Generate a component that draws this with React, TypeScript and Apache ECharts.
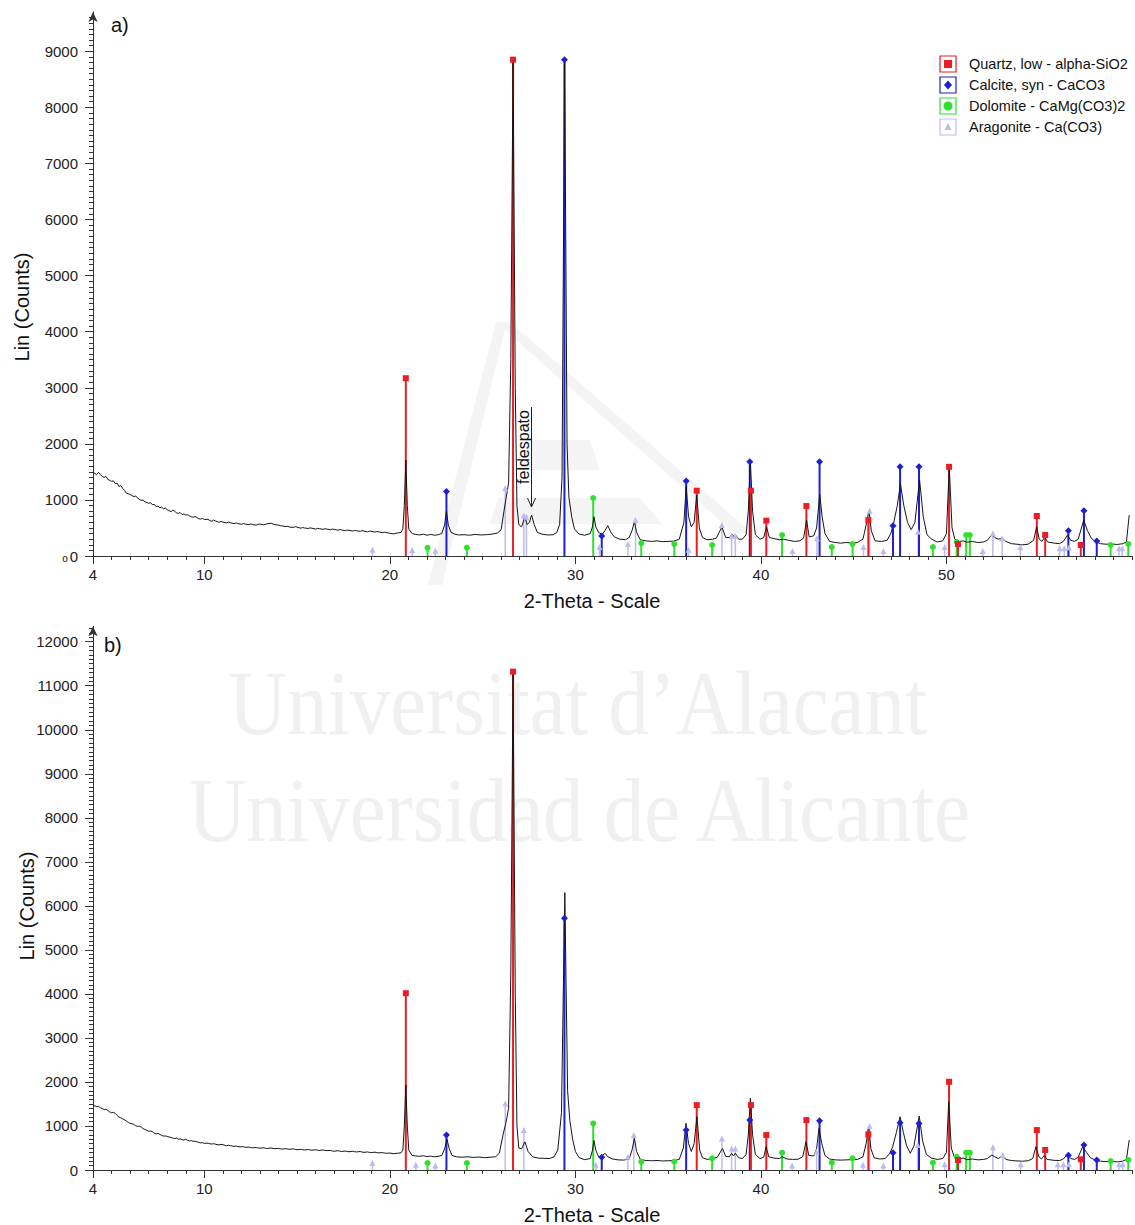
import React, { useEffect, useRef } from 'react';
import * as echarts from 'echarts';

const xTickLabels = [4, 10, 20, 30, 40, 50];
const yTicksA = [0, 1000, 2000, 3000, 4000, 5000, 6000, 7000, 8000, 9000];
const yTicksB = [0, 1000, 2000, 3000, 4000, 5000, 6000, 7000, 8000, 9000, 10000, 11000, 12000];

const phaseNames = ['Quartz, low - alpha-SiO2', 'Calcite, syn - CaCO3', 'Dolomite - CaMg(CO3)2', 'Aragonite - Ca(CO3)'];

// measured pattern, panel a)
const patternA: [number, number][] = [
  [4.0, 1500], [4.1, 1470], [4.2, 1455], [4.3, 1490], [4.4, 1450], [4.5, 1420], [4.6, 1400], [4.7, 1420], [4.8, 1365], [4.9, 1350], [5.0, 1330], [5.1, 1340], [5.2, 1290], [5.3, 1300], [5.4, 1240], [5.5, 1255], [5.6, 1205], [5.7, 1170], [5.8, 1120],
  [5.9, 1110], [6.0, 1100], [6.1, 1075], [6.2, 1060], [6.3, 1070], [6.4, 1035], [6.5, 1010], [6.6, 990], [6.7, 1000], [6.8, 965], [6.9, 955], [7.0, 940], [7.1, 950], [7.2, 915], [7.3, 920], [7.4, 880], [7.5, 890], [7.6, 860], [7.7, 875], [7.8, 840],
  [7.9, 855], [8.0, 825], [8.1, 810], [8.2, 790], [8.3, 815], [8.4, 800], [8.5, 770], [8.6, 760], [8.7, 775], [8.8, 740], [8.9, 750], [9.0, 730], [9.1, 735], [9.2, 715], [9.3, 700], [9.4, 690], [9.5, 705], [9.6, 685], [9.7, 665], [9.8, 660],
  [9.9, 670], [10.0, 650], [10.2, 655], [10.3, 630], [10.4, 620], [10.5, 640], [10.6, 625], [10.8, 600], [10.9, 615], [11.0, 605], [11.2, 590], [11.3, 605], [11.4, 595], [11.6, 575], [11.7, 590], [11.8, 580],
  [12.0, 565], [12.1, 580], [12.2, 570], [12.4, 560], [12.5, 572], [12.6, 560], [12.8, 550], [12.9, 565], [13.0, 570], [13.2, 555], [13.4, 575], [13.6, 585], [13.7, 570], [13.8, 560],
  [14.0, 550], [14.1, 540], [14.2, 535], [14.4, 525], [14.5, 530], [14.6, 515], [14.8, 510], [14.9, 522], [15.0, 515], [15.2, 495], [15.3, 508], [15.4, 500], [15.6, 490], [15.7, 502], [15.8, 495],
  [16.0, 480], [16.1, 492], [16.2, 488], [16.4, 475], [16.5, 486], [16.6, 480], [16.8, 468], [16.9, 480], [17.0, 475], [17.2, 460], [17.3, 472], [17.4, 465], [17.6, 450], [17.7, 463], [17.8, 458],
  [18.0, 445], [18.1, 456], [18.2, 450], [18.4, 440], [18.5, 452], [18.6, 445], [18.8, 430], [18.9, 444], [19.0, 440], [19.2, 425], [19.3, 437], [19.4, 432], [19.6, 415], [19.7, 425], [19.8, 418],
  [20.0, 405], [20.2, 395], [20.4, 410], [20.6, 420], [20.7, 480], [20.78, 900], [20.86, 1710], [20.94, 900], [21.02, 480], [21.2, 400],
  [21.4, 385], [21.6, 375], [21.8, 390], [22.0, 370], [22.2, 385], [22.4, 370], [22.6, 380], [22.8, 400], [22.95, 550], [23.05, 800],
  [23.15, 550], [23.3, 420], [23.5, 390], [23.7, 375], [24.0, 380], [24.3, 370], [24.6, 385], [24.9, 375], [25.2, 380], [25.5, 390],
  [25.8, 410], [26.0, 470], [26.15, 800], [26.25, 1000], [26.4, 1300], [26.52, 3500], [26.64, 8800], [26.76, 3000], [26.85, 900], [26.95, 560],
  [27.1, 520], [27.28, 700], [27.4, 560], [27.52, 600], [27.64, 730], [27.78, 560], [27.95, 420], [28.2, 390], [28.5, 375], [28.8, 380],
  [29.0, 420], [29.15, 560], [29.28, 1400], [29.42, 8850], [29.55, 2000], [29.65, 1050], [29.8, 700], [29.95, 480], [30.2, 390], [30.5, 370],
  [30.8, 400], [30.92, 520], [31.0, 700], [31.1, 520], [31.25, 420], [31.45, 380], [31.6, 460], [31.75, 540], [31.9, 430], [32.1, 340],
  [32.4, 300], [32.7, 290], [32.9, 330], [33.05, 450], [33.18, 610], [33.3, 420], [33.5, 290], [33.8, 270], [34.1, 260], [34.4, 270],
  [34.7, 255], [35.0, 260], [35.3, 265], [35.6, 300], [35.85, 600], [35.97, 1240], [36.1, 700], [36.25, 520], [36.4, 600], [36.54, 1090],
  [36.68, 500], [36.85, 330], [37.1, 290], [37.4, 300], [37.6, 320], [37.9, 520], [38.1, 330], [38.3, 330], [38.45, 390], [38.55, 340],
  [38.65, 370], [38.8, 300], [39.0, 300], [39.2, 380], [39.32, 800], [39.43, 1710], [39.55, 800], [39.7, 380], [39.95, 300], [40.15, 330],
  [40.3, 520], [40.45, 330], [40.7, 310], [41.0, 290], [41.2, 300], [41.5, 280], [41.8, 260], [42.1, 270], [42.3, 320], [42.46, 640],
  [42.6, 340], [42.85, 360], [43.0, 500], [43.17, 1100], [43.3, 700], [43.45, 400], [43.7, 260], [44.0, 240], [44.3, 230], [44.6, 240],
  [44.9, 230], [45.2, 240], [45.5, 300], [45.7, 600], [45.82, 810], [45.95, 450], [46.15, 270], [46.5, 260], [46.8, 280], [47.0, 400],
  [47.15, 580], [47.35, 900], [47.52, 1290], [47.7, 900], [47.9, 600], [48.1, 470], [48.3, 600], [48.55, 1360], [48.75, 700], [48.95, 380],
  [49.2, 300], [49.5, 250], [49.8, 270], [50.0, 400], [50.15, 1590], [50.3, 500], [50.45, 300], [50.7, 260], [50.9, 270], [51.1, 245],
  [51.4, 260], [51.7, 240], [52.0, 250], [52.2, 280], [52.45, 380], [52.6, 330], [52.8, 300], [53.0, 320], [53.2, 260], [53.5, 220],
  [53.8, 210], [54.1, 200], [54.4, 210], [54.7, 280], [54.86, 520], [55.0, 300], [55.15, 260], [55.3, 340], [55.45, 250], [55.8, 230],
  [56.1, 220], [56.3, 260], [56.52, 370], [56.7, 280], [56.9, 260], [57.1, 300], [57.4, 640], [57.6, 450], [57.8, 320], [58.0, 260],
  [58.3, 220], [58.6, 210], [58.9, 215], [59.2, 205], [59.5, 220], [59.7, 250], [59.85, 730],
];

// measured pattern, panel b)
const patternB: [number, number][] = [
  [4.0, 1470], [4.1, 1455], [4.2, 1440], [4.3, 1445], [4.4, 1415], [4.5, 1395], [4.6, 1370], [4.7, 1380], [4.8, 1350], [4.9, 1320], [5.0, 1300], [5.1, 1310], [5.2, 1285], [5.3, 1240], [5.4, 1200], [5.5, 1185], [5.6, 1160], [5.7, 1140], [5.8, 1110],
  [5.9, 1080], [6.0, 1060], [6.1, 1050], [6.2, 1035], [6.3, 1005], [6.4, 990], [6.5, 995], [6.6, 975], [6.7, 940], [6.8, 920], [6.9, 905], [7.0, 880], [7.1, 885], [7.2, 870], [7.3, 835], [7.4, 820], [7.5, 830], [7.6, 810], [7.7, 785], [7.8, 770],
  [7.9, 775], [8.0, 760], [8.1, 750], [8.2, 740], [8.3, 725], [8.4, 715], [8.5, 725], [8.6, 700], [8.7, 705], [8.8, 690], [8.9, 680], [9.0, 700], [9.1, 675], [9.2, 660], [9.3, 668], [9.4, 650], [9.5, 655], [9.6, 640], [9.7, 628], [9.8, 615],
  [9.9, 622], [10.0, 605], [10.2, 610], [10.3, 595], [10.4, 590], [10.5, 598], [10.6, 585], [10.8, 570], [10.9, 582], [11.0, 575], [11.2, 550], [11.3, 562], [11.4, 555], [11.6, 535], [11.7, 545], [11.8, 530],
  [12.0, 525], [12.1, 532], [12.2, 515], [12.4, 520], [12.5, 510], [12.6, 505], [12.8, 510], [12.9, 500], [13.0, 495], [13.2, 505], [13.3, 492], [13.4, 490], [13.6, 500], [13.7, 490], [13.8, 485],
  [14.0, 490], [14.1, 480], [14.2, 475], [14.4, 485], [14.5, 474], [14.6, 470], [14.8, 480], [14.9, 468], [15.0, 460], [15.2, 470], [15.3, 460], [15.4, 455], [15.6, 465], [15.7, 455], [15.8, 450],
  [16.0, 460], [16.1, 450], [16.2, 445], [16.4, 455], [16.5, 444], [16.6, 440], [16.8, 445], [16.9, 432], [17.0, 425], [17.2, 440], [17.3, 428], [17.4, 420], [17.6, 430], [17.7, 420], [17.8, 415],
  [18.0, 425], [18.1, 415], [18.2, 410], [18.4, 420], [18.5, 408], [18.6, 400], [18.8, 410], [18.9, 400], [19.0, 395], [19.2, 405], [19.3, 394], [19.4, 390], [19.6, 395], [19.7, 386], [19.8, 380],
  [20.0, 385], [20.2, 370], [20.4, 380], [20.6, 390], [20.7, 450], [20.78, 1000], [20.86, 1930], [20.94, 1000], [21.02, 450], [21.2, 330],
  [21.4, 320], [21.6, 310], [21.8, 325], [22.0, 305], [22.2, 315], [22.4, 300], [22.6, 310], [22.8, 330], [22.95, 480], [23.08, 700],
  [23.2, 480], [23.35, 330], [23.6, 300], [23.9, 290], [24.2, 300], [24.5, 285], [24.8, 295], [25.1, 280], [25.4, 290], [25.7, 300],
  [25.9, 380], [26.1, 800], [26.25, 1060], [26.4, 1400], [26.52, 4500], [26.64, 11300], [26.76, 4000], [26.85, 1000], [26.95, 500], [27.1, 480],
  [27.28, 640], [27.45, 420], [27.7, 300], [28.0, 270], [28.3, 265], [28.6, 260], [28.85, 300], [29.05, 450], [29.25, 1300], [29.43, 6300],
  [29.58, 1800], [29.7, 1130], [29.85, 700], [30.0, 420], [30.2, 280], [30.5, 235], [30.8, 260], [30.92, 450], [31.0, 670], [31.1, 450],
  [31.25, 300], [31.45, 330], [31.6, 380], [31.75, 300], [32.0, 250], [32.3, 230], [32.6, 225], [32.9, 250], [33.05, 450], [33.18, 720],
  [33.3, 420], [33.5, 240], [33.8, 215], [34.1, 210], [34.4, 215], [34.7, 205], [35.0, 210], [35.3, 215], [35.6, 240], [35.82, 500],
  [35.96, 1060], [36.1, 600], [36.25, 420], [36.4, 600], [36.55, 1210], [36.7, 450], [36.85, 280], [37.1, 240], [37.4, 260], [37.65, 290],
  [37.93, 490], [38.1, 310], [38.3, 300], [38.42, 380], [38.52, 320], [38.62, 380], [38.8, 280], [39.0, 260], [39.2, 350], [39.32, 800],
  [39.43, 1626], [39.55, 800], [39.7, 350], [39.95, 260], [40.15, 290], [40.28, 530], [40.42, 300], [40.7, 270], [41.0, 260], [41.14, 300],
  [41.4, 250], [41.7, 240], [42.0, 245], [42.25, 300], [42.43, 643], [42.58, 330], [42.85, 320], [43.0, 480], [43.13, 945], [43.28, 600],
  [43.45, 330], [43.7, 250], [44.0, 230], [44.3, 225], [44.6, 230], [44.9, 235], [45.2, 240], [45.5, 300], [45.68, 620], [45.8, 1000],
  [45.93, 480], [46.1, 280], [46.4, 250], [46.7, 260], [46.95, 380], [47.1, 530], [47.3, 850], [47.5, 1210], [47.68, 850], [47.85, 550],
  [48.05, 380], [48.25, 550], [48.53, 1225], [48.72, 650], [48.92, 350], [49.2, 270], [49.5, 240], [49.8, 260], [50.0, 400], [50.12, 1550],
  [50.26, 500], [50.42, 300], [50.7, 260], [50.9, 270], [51.1, 235], [51.4, 250], [51.7, 230], [52.0, 240], [52.2, 260], [52.45, 340],
  [52.6, 300], [52.8, 260], [53.04, 330], [53.2, 240], [53.5, 215], [53.8, 205], [54.1, 200], [54.4, 210], [54.65, 260], [54.82, 529],
  [54.98, 300], [55.12, 250], [55.27, 330], [55.42, 240], [55.8, 220], [56.1, 215], [56.3, 250], [56.52, 355], [56.7, 260], [56.9, 240],
  [57.1, 290], [57.34, 529], [57.55, 400], [57.75, 280], [58.0, 230], [58.3, 200], [58.6, 190], [58.9, 195], [59.2, 185], [59.5, 200],
  [59.7, 240], [59.85, 680],
];

// reference sticks, panel a)
const quartzA: [number, number][] = [[20.86, 3170], [26.64, 8850], [36.54, 1164], [39.46, 1164], [40.29, 630], [42.45, 890], [45.79, 640], [50.14, 1590], [50.62, 214], [54.87, 713], [55.32, 374], [57.24, 196]];
const calciteA: [number, number][] = [[23.05, 1150], [29.41, 8850], [31.42, 356], [35.97, 1337], [39.4, 1681], [43.16, 1681], [47.12, 540], [47.5, 1592], [48.52, 1592], [56.57, 451], [57.41, 808], [58.1, 267]];
const dolomiteA: [number, number][] = [[22.03, 145], [24.15, 150], [30.96, 1034], [33.55, 230], [35.33, 214], [37.37, 196], [41.14, 374], [43.82, 160], [44.94, 214], [49.27, 160], [50.55, 250], [51.06, 374], [51.26, 374], [58.85, 196], [59.8, 214]];
const aragoniteA: [number, number][] = [[19.06, 110], [21.2, 107], [22.45, 95], [26.22, 1212], [27.22, 720], [27.36, 700], [31.3, 160], [32.83, 214], [33.24, 642], [36.1, 110], [37.9, 553], [38.42, 356], [38.62, 356], [41.7, 90], [43.02, 315], [45.53, 160], [45.86, 808], [46.6, 90], [48.47, 433], [49.9, 160], [51.96, 90], [52.5, 404], [53.0, 315], [53.98, 160], [56.1, 140], [56.35, 140], [56.6, 150], [59.3, 140], [59.47, 140]];

// reference sticks, panel b)
const quartzB: [number, number][] = [[20.86, 4015], [26.64, 11320], [36.54, 1474], [39.46, 1474], [40.29, 794], [42.45, 1134], [45.79, 809], [50.14, 2004], [50.62, 227], [54.87, 907], [55.32, 454], [57.24, 242]];
const calciteB: [number, number][] = [[23.05, 794], [29.41, 5717], [31.42, 287], [35.97, 907], [39.4, 1134], [43.16, 1119], [47.12, 393], [47.5, 1074], [48.52, 1058], [56.57, 333], [57.41, 567], [58.1, 227]];
const dolomiteB: [number, number][] = [[22.03, 159], [24.15, 159], [30.96, 1058], [33.55, 189], [35.33, 189], [37.37, 265], [41.14, 393], [43.82, 166], [44.94, 265], [49.27, 166], [50.55, 300], [51.06, 393], [51.26, 393], [58.85, 204], [59.8, 227]];
const aragoniteB: [number, number][] = [[19.06, 159], [21.4, 120], [22.45, 100], [26.22, 1512], [27.22, 907], [31.1, 120], [32.83, 300], [33.15, 794], [37.9, 718], [38.42, 491], [38.62, 491], [41.68, 100], [43.0, 416], [45.5, 120], [45.86, 998], [46.6, 100], [48.45, 567], [49.9, 130], [52.5, 514], [53.04, 333], [54.0, 130], [56.0, 130], [56.3, 130], [56.6, 130], [59.3, 130], [59.5, 130]];

const FONT = '"Liberation Sans", Arial, Helvetica, sans-serif';
const AXIS = '#333';
const RED = '#ea1d25';
const BLUE = '#1e1ed2';
const GREEN = '#2fe02f';
const LILAC = '#bcbcee';

function xAxes(gridIndex: number) {
  return [
    {
      type: 'value', gridIndex, min: 4, max: 60, interval: 1, position: 'bottom',
      axisLine: { show: true, onZero: false, lineStyle: { color: AXIS, width: 1 } },
      axisTick: { show: true, length: 4, lineStyle: { color: AXIS } },
      axisLabel: {
        show: true, margin: 11, fontSize: 15, fontFamily: FONT, color: '#222',
        formatter: (v: number) => (xTickLabels.indexOf(v) >= 0 ? String(v) : ''),
      },
      splitLine: { show: false },
    },
    {
      type: 'value', gridIndex, min: 4, max: 60, position: 'bottom',
      axisLine: { show: false }, axisLabel: { show: false }, splitLine: { show: false },
      axisTick: { show: true, length: 8, customValues: xTickLabels, lineStyle: { color: AXIS } },
    },
  ];
}

function yAxis(gridIndex: number, max: number, ticks: number[]) {
  return {
    type: 'value', gridIndex, min: 0, max, interval: 1000,
    axisLine: { show: true, symbol: ['none', 'arrow'], symbolSize: [7, 10], lineStyle: { color: AXIS, width: 1 } },
    axisTick: { show: true, length: 8, customValues: ticks, lineStyle: { color: AXIS } },
    minorTick: { show: true, splitNumber: 10, length: 4, lineStyle: { color: AXIS } },
    axisLabel: {
      margin: 15, fontSize: 15, fontFamily: FONT, color: '#222',
      formatter: (v: number) => (v % 1000 === 0 ? String(v) : ''),
    },
    splitLine: { show: false },
    minorSplitLine: { show: false },
  };
}

function sticks(data: [number, number][], color: string, width: number, xi: number, yi: number, z: number) {
  return {
    type: 'custom', xAxisIndex: xi, yAxisIndex: yi, data, z, silent: true,
    encode: { x: 0, y: 1 },
    renderItem: (_p: any, api: any) => {
      const p0 = api.coord([api.value(0), 0]);
      const p1 = api.coord([api.value(0), api.value(1)]);
      return {
        type: 'line',
        shape: { x1: p0[0], y1: p0[1], x2: p1[0], y2: p1[1] },
        style: { stroke: color, lineWidth: width },
      };
    },
  };
}

function markers(data: [number, number][], color: string, symbol: string, size: number, xi: number, yi: number) {
  return {
    type: 'scatter', xAxisIndex: xi, yAxisIndex: yi, data, symbol, symbolSize: size, z: 8, silent: true,
    itemStyle: { color, opacity: 1 },
  };
}

function pattern(data: [number, number][], xi: number, yi: number) {
  return {
    type: 'line', xAxisIndex: xi, yAxisIndex: yi, data, showSymbol: false, z: 6, silent: true,
    lineStyle: { color: '#151515', width: 1 }, itemStyle: { color: '#151515' },
  };
}

function panelSeries(xi: number, yi: number, q: any, c: any, d: any, a: any, pat: any) {
  return [
    sticks(a, LILAC, 1.5, xi, yi, 2),
    sticks(d, GREEN, 2, xi, yi, 3),
    sticks(c, BLUE, 2, xi, yi, 4),
    sticks(q, RED, 2, xi, yi, 5),
    pattern(pat, xi, yi),
    markers(a, LILAC, 'triangle', 6, xi, yi),
    markers(d, GREEN, 'circle', 6, xi, yi),
    markers(c, BLUE, 'diamond', 7, xi, yi),
    markers(q, RED, 'rect', 6, xi, yi),
  ];
}

function legendGraphics() {
  const colors = [RED, BLUE, GREEN, LILAC];
  const els: any[] = [];
  phaseNames.forEach((name, i) => {
    const cy = 64 + i * 21;
    const bx = 940;
    const cx = bx + 8;
    els.push({ type: 'rect', z: 20, shape: { x: bx, y: cy - 8, width: 16, height: 16 }, style: { fill: '#fff', stroke: colors[i], lineWidth: 1.2 } });
    if (i === 0) els.push({ type: 'rect', z: 21, shape: { x: cx - 4, y: cy - 4, width: 8, height: 8 }, style: { fill: colors[i] } });
    if (i === 1) els.push({ type: 'polygon', z: 21, shape: { points: [[cx, cy - 4.5], [cx + 4, cy], [cx, cy + 4.5], [cx - 4, cy]] }, style: { fill: colors[i] } });
    if (i === 2) els.push({ type: 'circle', z: 21, shape: { cx, cy, r: 4.5 }, style: { fill: colors[i] } });
    if (i === 3) els.push({ type: 'polygon', z: 21, shape: { points: [[cx, cy - 4], [cx + 3.5, cy + 3], [cx - 3.5, cy + 3]] }, style: { fill: colors[i] } });
    els.push({ type: 'text', z: 21, style: { text: name, x: 969, y: cy, fontSize: 14.5, fontFamily: FONT, fill: '#111', textVerticalAlign: 'middle' } });
  });
  return els;
}

function watermark() {
  const wm = '#f0f0f0';
  const logo = '#f4f4f4';
  const serif = '"Liberation Serif", "DejaVu Serif", serif';
  return [
    { type: 'polygon', z: -5, shape: { points: [[428, 585], [442, 585], [507, 322], [496, 322]] }, style: { fill: logo } },
    { type: 'polygon', z: -5, shape: { points: [[496, 322], [510, 322], [752, 533], [734, 533]] }, style: { fill: logo } },
    { type: 'polygon', z: -5, shape: { points: [[530, 440], [590, 440], [600, 470], [518, 470]] }, style: { fill: logo } },
    { type: 'polygon', z: -5, shape: { points: [[498, 498], [640, 498], [662, 524], [490, 524]] }, style: { fill: logo } },
    { type: 'text', z: -4, x: 578, y: 749, scaleX: 0.88, style: { text: 'Universitat d\u2019Alacant', x: 0, y: 0, fontSize: 92, fontFamily: serif, fill: wm, textAlign: 'center', textVerticalAlign: 'bottom' } },
    { type: 'text', z: -4, x: 579, y: 856, scaleX: 0.88, style: { text: 'Universidad de Alicante', x: 0, y: 0, fontSize: 92, fontFamily: serif, fill: wm, textAlign: 'center', textVerticalAlign: 'bottom' } },
  ];
}

function textGraphics() {
  const t = (text: string, x: number, y: number, size: number, rotation = 0, align = 'center') => ({
    type: 'text', z: 22, x, y, rotation,
    style: { text, x: 0, y: 0, fontSize: size, fontFamily: FONT, fill: '#111', textAlign: align, textVerticalAlign: 'middle' },
  });
  return [
    t('a)', 111, 25, 20, 0, 'left'),
    t('b)', 104, 645, 20, 0, 'left'),
    t('Lin (Counts)', 22, 307, 20, Math.PI / 2),
    t('Lin (Counts)', 27, 906, 20, Math.PI / 2),
    t('2-Theta - Scale', 592, 601, 20),
    t('2-Theta - Scale', 592, 1215, 20),
    t('o', 65, 558, 10),
    t('feldespato', 523, 447, 16, Math.PI / 2),
    { type: 'line', z: 22, shape: { x1: 531.5, y1: 407, x2: 531.5, y2: 507 }, style: { stroke: '#222', lineWidth: 1 } },
    { type: 'polyline', z: 22, shape: { points: [[527.5, 498], [531.5, 507], [535.5, 498]] }, style: { stroke: '#222', lineWidth: 1, fill: 'none' } },
  ];
}

export default function App() {
  const ref = useRef<HTMLDivElement>(null);
  useEffect(() => {
    if (!ref.current) return;
    const chart = echarts.init(ref.current, null, { renderer: 'svg', width: 1135, height: 1225 });
    const option: any = {
      animation: false,
      backgroundColor: '#fff',
      grid: [
        { left: 93, top: 12, width: 1044, height: 544, containLabel: false },
        { left: 93, top: 626.3, width: 1044, height: 543.7, containLabel: false },
      ],
      xAxis: [...xAxes(0), ...xAxes(1)],
      yAxis: [yAxis(0, 9700, yTicksA), yAxis(1, 12350, yTicksB)],
      series: [
        ...panelSeries(0, 0, quartzA, calciteA, dolomiteA, aragoniteA, patternA),
        ...panelSeries(2, 1, quartzB, calciteB, dolomiteB, aragoniteB, patternB),
      ],
      graphic: { elements: [...watermark(), ...legendGraphics(), ...textGraphics()] },
    };
    chart.setOption(option);
    return () => chart.dispose();
  }, []);
  return (
    <div
      ref={ref}
      style={{ position: 'absolute', left: 0, top: 0, width: 1135, height: 1225, background: '#fff' }}
    />
  );
}
